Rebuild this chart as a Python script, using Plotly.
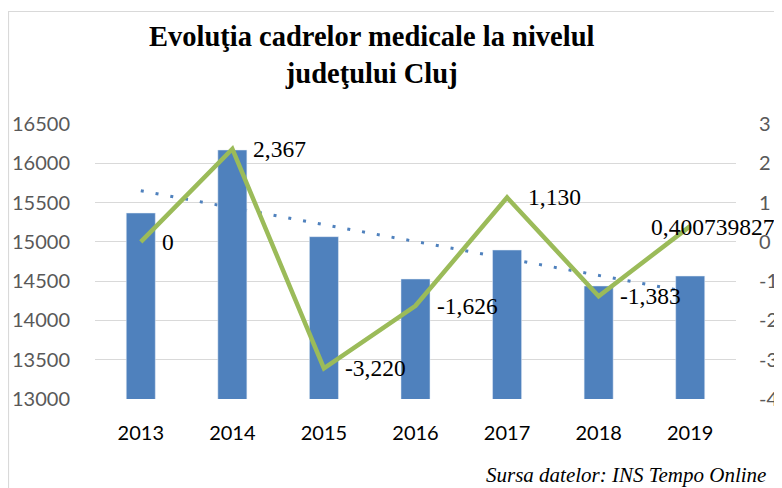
import numpy as np
import plotly.graph_objects as go

years = ["2013", "2014", "2015", "2016", "2017", "2018", "2019"]
staff = [15367, 16169, 15066, 14527, 14896, 14438, 14565]
growth = [0, 2.367, -3.220, -1.626, 1.130, -1.383, 0.400739827]
growth_labels = ["0", "2,367", "-3,220", "-1,626", "1,130", "-1,383", "0,400739827"]
left_ticks = [13000, 13500, 14000, 14500, 15000, 15500, 16000, 16500]
left_tick_labels = ["13000", "13500", "14000", "14500", "15000", "15500", "16000", "16500"]
right_ticks = [-4, -3, -2, -1, 0, 1, 2, 3]
right_tick_labels = ["-4", "-3", "-2", "-1", "0", "1", "2", "3"]

# category positions on the x axis
pos = list(range(len(years)))

# linear trendline of the bar series (as Excel would)
slope, intercept = np.polyfit(pos, staff, 1)
trend = [float(slope * p + intercept) for p in pos]

# page body has an 8px margin; figure is sized to fill the rest of the window
OFF = 8
W, H = 782 - OFF, 488 - OFF
PX0, PX1, PY0, PY1 = 95, 736, 124, 399  # plot area in window pixels
L, R, T, B = PX0 - OFF, 782 - PX1, PY0 - OFF, 488 - PY1
PW, PH = PX1 - PX0, PY1 - PY0


def px(xw):
    return (xw - PX0) / PW


def py(yw):
    return (PY1 - yw) / PH


fig = go.Figure()
fig.add_trace(go.Scatter(x=pos, y=trend, mode="lines", yaxis="y",
                         line=dict(color="#4F81BD", width=3, dash="3px,12px"),
                         showlegend=False, hoverinfo="skip"))
fig.add_trace(go.Bar(x=pos, y=staff, yaxis="y2", marker_color="#4F81BD",
                     width=0.317, showlegend=False))
fig.add_trace(go.Scatter(x=pos, y=growth, mode="lines", yaxis="y3",
                         line=dict(color="#9BBB59", width=4.5),
                         showlegend=False, cliponaxis=False))

label_font = dict(family="Liberation Serif", size=23.5, color="#000000")
last = len(pos) - 1
for i, (x, y, t) in enumerate(zip(pos, growth, growth_labels)):
    if i == last:
        # label pushed back inside the chart area (ends at the right edge)
        fig.add_annotation(x=px(777), y=y, xref="paper", yref="y3", text=t,
                           showarrow=False, xanchor="right", yanchor="middle",
                           yshift=-1, font=label_font)
    else:
        fig.add_annotation(x=x, y=y, xref="x", yref="y3", text=t, showarrow=False,
                           xanchor="left", yanchor="middle", xshift=19,
                           font=label_font)

fig.add_annotation(text="<i>Sursa datelor: INS Tempo Online</i>", xref="paper", yref="paper",
                   x=px(768), y=py(475),
                   xanchor="right", yanchor="middle", showarrow=False,
                   font=dict(family="Liberation Serif", size=21, color="#000000"))

fig.add_annotation(text="<b>Evoluţia cadrelor medicale la nivelul<br>judeţului Cluj</b>",
                   xref="paper", yref="paper",
                   x=px(371.5), y=py(55),
                   xanchor="center", yanchor="middle", showarrow=False,
                   font=dict(family="Liberation Serif", size=28.5, color="#000000"))

# chart-area frame (top and left edges visible)
fig.add_shape(type="rect", xref="paper", yref="paper",
              x0=px(8.5), x1=1.3, y0=-0.6, y1=py(11.5),
              line=dict(color="#D9D9D9", width=1.2), layer="below")

rng = [13000, 16500]
fig.update_layout(
    width=W, height=H,
    margin=dict(l=L, r=R, t=T, b=B, autoexpand=False),
    paper_bgcolor="white", plot_bgcolor="white",
    xaxis=dict(range=[-0.5, len(years) - 0.5], tickmode="array", tickvals=pos, ticktext=years,
               showgrid=False, showline=False, zeroline=False, automargin=False,
               ticks="outside", ticklen=16, tickcolor="rgba(0,0,0,0)",
               tickfont=dict(family="Lato", size=20, color="#000000")),
    yaxis=dict(range=rng, tickmode="array", tickvals=left_ticks, ticktext=left_tick_labels,
               showgrid=True, gridcolor="#D9D9D9", gridwidth=1.3, zeroline=False,
               showline=False, automargin=False,
               ticks="outside", ticklen=20, tickcolor="rgba(0,0,0,0)",
               tickfont=dict(family="Lato", size=20, color="#595959")),
    yaxis2=dict(range=rng, overlaying="y", visible=False),
    yaxis3=dict(range=[-4, 3], tickmode="array", tickvals=right_ticks, ticktext=right_tick_labels,
                overlaying="y", side="right", showgrid=False, zeroline=False, showline=False,
                automargin=False,
                ticks="outside", ticklen=18, tickcolor="rgba(0,0,0,0)",
                tickfont=dict(family="Lato", size=20, color="#595959")),
)

fig.write_html("out.html")
